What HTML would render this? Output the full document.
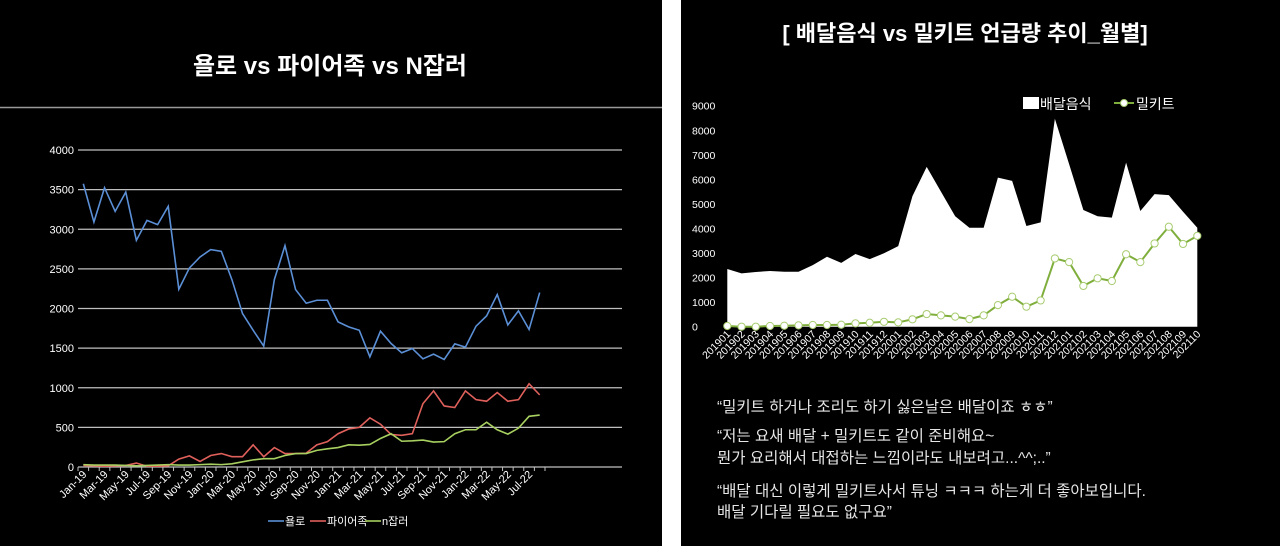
<!DOCTYPE html>
<html><head><meta charset="utf-8">
<style>
html,body{margin:0;padding:0;background:#fff;width:1280px;height:546px;overflow:hidden}
svg{display:block}
text{font-family:"Liberation Sans","Noto Sans CJK KR",sans-serif}
</style></head>
<body>
<svg id="root" width="1280" height="546" viewBox="0 0 1280 546">
  <rect x="0" y="0" width="662" height="546" fill="#000"/>
  <rect x="681" y="0" width="599" height="546" fill="#000"/>
  <text x="330" y="74" text-anchor="middle" fill="#fff" font-size="24" font-weight="bold">욜로 vs 파이어족 vs N잡러</text>
  <line x1="0" y1="107.5" x2="662" y2="107.5" stroke="#999" stroke-width="1.5"/>
  <g id="left"></g>
  <text x="965" y="41" text-anchor="middle" fill="#fff" font-size="22" font-weight="bold">[ 배달음식 vs 밀키트 언급량 추이_월별]</text>
  <g id="right"></g>
  <g fill="#e6e6e6" font-size="15.5">
    <text x="717" y="412">“밀키트 하거나 조리도 하기 싫은날은 배달이죠 ㅎㅎ”</text>
    <text x="717" y="441">“저는 요새 배달 + 밀키트도 같이 준비해요~</text>
    <text x="717" y="463">뭔가 요리해서 대접하는 느낌이라도 내보려고...^^;..”</text>
    <text x="717" y="496">“배달 대신 이렇게 밀키트사서 튜닝 ㅋㅋㅋ 하는게 더 좋아보입니다.</text>
    <text x="717" y="517">배달 기다릴 필요도 없구요”</text>
  </g>
</svg>
<script>
const NS="http://www.w3.org/2000/svg";
const leftMonths=["Jan","Feb","Mar","Apr","May","Jun","Jul","Aug","Sep","Oct","Nov","Dec"];
const yoloValues=[3574,3091,3524,3226,3469,2860,3112,3058,3289,2243,2512,2650,2743,2722,2365,1936,1726,1525,2365,2793,2239,2066,2104,2104,1831,1768,1726,1390,1714,1558,1441,1495,1365,1424,1357,1554,1512,1777,1907,2176,1793,1970,1735,2201];
const fireValues=[20,15,10,15,20,50,10,10,15,100,140,70,145,170,130,130,280,130,245,170,170,175,280,320,420,480,500,620,540,410,400,420,800,960,770,750,960,850,830,940,830,850,1050,910];
const njobValues=[30,25,25,25,20,15,20,25,30,25,25,30,35,30,40,65,90,105,105,145,170,170,210,230,245,280,275,285,360,420,325,330,340,315,320,420,470,470,565,470,415,490,640,655];
const leftTicks=[0,500,1000,1500,2000,2500,3000,3500,4000];
const leftSeriesNames=["욜로","파이어족","n잡러"];

const rightCats=["201901","201902","201903","201904","201905","201906","201907","201908","201909","201910","201911","201912","202001","202002","202003","202004","202005","202006","202007","202008","202009","202010","202011","202012","202101","202102","202103","202104","202105","202106","202107","202108","202109","202110"];
const deliveryValues=[2350,2170,2230,2270,2240,2240,2510,2850,2600,2960,2750,2990,3280,5320,6510,5500,4500,4030,4030,6070,5940,4100,4250,8470,6620,4750,4500,4440,6680,4710,5400,5360,4680,4030];
const mealkitValues=[30,0,0,30,40,55,70,70,80,135,160,200,175,300,515,460,410,310,460,880,1220,815,1070,2780,2630,1660,1970,1860,2950,2630,3390,4070,3370,3700];
const rightTicks=[0,1000,2000,3000,4000,5000,6000,7000,8000,9000];

function el(tag,attrs,parent){const e=document.createElementNS(NS,tag);for(const k in attrs)e.setAttribute(k,attrs[k]);parent.appendChild(e);return e;}

// LEFT CHART
(function(){
  const g=document.getElementById('left');
  const n=yoloValues.length;
  const x0=78,x1=545,yTop=150,yBot=467,maxV=4000;
  const bw=(x1-x0)/n;
  const X=i=>x0+bw*(i+0.5);
  const Y=v=>yBot-(v/maxV)*(yBot-yTop);
  leftTicks.forEach(t=>{
    const ln=el('line',{x1:x0,x2:622,y1:Y(t),y2:Y(t),stroke:'#bfbfbf','stroke-width':1.2},g);
    
    
    const tx=el('text',{x:74,y:Y(t)+4,'text-anchor':'end',fill:'#fff','font-size':11},g);
    tx.textContent=t;
    
    
  });
  for(let i=0;i<=n;i++){
    const tk=el('line',{x1:x0+bw*i,x2:x0+bw*i,y1:yBot,y2:yBot+4,stroke:'#bfbfbf'},g);
    
    
  }
  for(let i=0;i<n;i+=2){
    const yr=19+Math.floor(i/12);
    const lab=leftMonths[i%12]+"-"+yr;
    const tx=el('text',{x:X(i)+4,y:yBot+8,'text-anchor':'end',fill:'#fff','font-size':11,transform:`rotate(-45 ${X(i)+4} ${yBot+8})`},g);
    tx.textContent=lab;
    
    
  }
  const series=[[yoloValues,'#5b8fd6','yolo-line'],[fireValues,'#e0605b','fire-line'],[njobValues,'#a8d060','njob-line']];
  series.forEach(([vals,c,name])=>{
    const p=el('polyline',{points:vals.map((v,i)=>X(i)+','+Y(v)).join(' '),fill:'none',stroke:c,'stroke-width':1.6},g);
    
    
  });
  const lx=[268,310,365],cols=['#5b8fd6','#e0605b','#a8d060'];
  leftSeriesNames.forEach((nm,k)=>{
    const ln=el('line',{x1:lx[k],x2:lx[k]+16,y1:521,y2:521,stroke:cols[k],'stroke-width':1.6},g);
    
    
    const tx=el('text',{x:lx[k]+17,y:525,fill:'#fff','font-size':11},g);
    tx.textContent=nm;
    
    
  });
})();

// RIGHT CHART
(function(){
  const g=document.getElementById('right');
  const n=rightCats.length;
  const xa=727.3,xb=1197.3,yTop=105.7,yBot=326.7,maxV=9000;
  const step=(xb-xa)/(n-1);
  const X=i=>xa+step*i;
  const Y=v=>yBot-(v/maxV)*(yBot-yTop);
  rightTicks.forEach(t=>{
    const tx=el('text',{x:692,y:Y(t)+4,fill:'#fff','font-size':10.5},g);
    tx.textContent=t;
    
    
  });
  const area=el('polygon',{points:`${X(0)},${yBot} `+deliveryValues.map((v,i)=>X(i)+','+Y(v)).join(' ')+` ${X(n-1)},${yBot}`,fill:'#fff'},g);
  
  
  const line=el('polyline',{points:mealkitValues.map((v,i)=>X(i)+','+Y(v)).join(' '),fill:'none',stroke:'#7fae3c','stroke-width':2},g);
  
  
  mealkitValues.forEach((v,i)=>{
    const c=el('circle',{cx:X(i),cy:Y(v),r:3.6,fill:'#fff',stroke:'#a8cc70','stroke-width':1},g);
    
    
  });
  rightCats.forEach((c,i)=>{
    const tx=el('text',{x:X(i)+4,y:yBot+8,'text-anchor':'end',fill:'#fff','font-size':10.5,transform:`rotate(-45 ${X(i)+4} ${yBot+8})`},g);
    tx.textContent=c;
    
    
  });
  const sw=el('rect',{x:1023,y:97,width:16,height:12,fill:'#fff'},g);
  
  
  const t1=el('text',{x:1040,y:109,fill:'#fff','font-size':14},g);
  t1.textContent='배달음식';
  
  
  const ll=el('line',{x1:1114,x2:1134,y1:103,y2:103,stroke:'#7fae3c','stroke-width':2},g);
  
  
  const lc=el('circle',{cx:1124,cy:103,r:3.5,fill:'#fff',stroke:'#a8cc70'},g);
  
  
  const t2=el('text',{x:1136,y:109,fill:'#fff','font-size':14},g);
  t2.textContent='밀키트';
  
  
})();
</script>
</body></html>
